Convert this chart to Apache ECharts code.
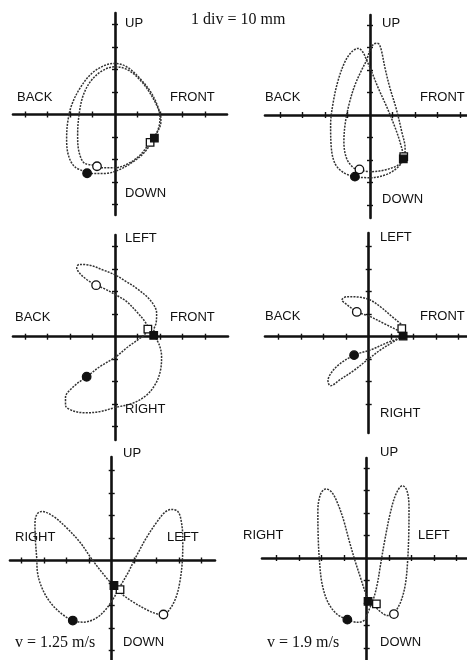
<!DOCTYPE html>
<html>
<head>
<meta charset="utf-8">
<script src="https://cdn.jsdelivr.net/npm/echarts@6/dist/echarts.min.js"></script>
<style>
  html, body { margin: 0; padding: 0; background: #ffffff; }
  #chart { width: 467px; height: 660px; }
</style>
</head>
<body>
<div id="chart"></div>
<script>
// Hoof-path loops in three planes (sagittal, horizontal, frontal) at two walking speeds.
// All coordinates are in divisions, 1 div = 10 mm.

// ---- Sagittal plane, v = 1.25 m/s (two strides) ----
const p1StrideA = [[-1.19,-2.58],[-1.78,-2.33],[-2.07,-1.81],[-2.15,-1.07],[-2.10,-0.33],[-1.93,0.41],[-1.56,1.16],[-1.04,1.82],[-0.44,2.19],[0,2.27],[0.52,2.12],[1.11,1.60],[1.63,0.93],[1.93,0.27],[2.0,-0.18],[1.93,-0.62],[1.73,-1.05],[1.33,-1.66],[0.81,-2.10],[0.15,-2.47],[-0.44,-2.62],[-1.04,-2.62],[-1.19,-2.58]];
const p1StrideB = [[-0.81,-2.25],[-1.33,-2.18],[-1.6,-1.66],[-1.66,-0.92],[-1.6,-0.03],[-1.41,0.86],[-1.04,1.53],[-0.52,1.97],[0,2.12],[0.59,1.97],[1.19,1.45],[1.70,0.71],[2.0,0.04],[2.04,-0.33],[1.85,-0.84],[1.56,-1.24],[1.11,-1.81],[0.59,-2.18],[0,-2.37],[-0.59,-2.37],[-0.81,-2.25]];
const p1Marks = { filledCircle: [-1.24,-2.61], openCircle: [-0.8,-2.3], filledSquare: [1.75,-1.05], openSquare: [1.56,-1.24] };

// ---- Sagittal plane, v = 1.9 m/s ----
const p2StrideA = [[-0.67,-2.76],[-1.19,-2.55],[-1.56,-2.15],[-1.73,-1.33],[-1.75,-0.44],[-1.63,0.59],[-1.41,1.56],[-1.11,2.37],[-0.81,2.81],[-0.52,2.96],[-0.33,2.81],[-0.15,2.44],[0.07,1.93],[0.37,1.19],[0.74,0.37],[1.07,-0.44],[1.33,-1.19],[1.48,-1.90],[1.26,-2.30],[0.74,-2.64],[0,-2.79],[-0.67,-2.76]];
const p2StrideB = [[-0.47,-2.44],[0,-2.52],[0.67,-2.44],[1.26,-2.22],[1.51,-1.93],[1.56,-1.48],[1.41,-0.74],[1.16,0.30],[0.89,1.19],[0.67,2.07],[0.52,2.81],[0.41,3.14],[0.30,3.19],[0.15,3.14],[0,2.89],[-0.15,2.44],[-0.37,2.0],[-0.67,1.33],[-0.92,0.52],[-1.10,-0.37],[-1.16,-1.19],[-1.04,-1.93],[-0.74,-2.34],[-0.47,-2.44]];
const p2Marks = { filledCircle: [-0.67,-2.74], openCircle: [-0.47,-2.42], filledSquare: [1.48,-1.95], openSquare: [1.5,-1.85] };

// ---- Horizontal plane, v = 1.25 m/s ----
const p3Path = [[1.73,0.07],[1.97,-0.37],[2.07,-0.89],[2.02,-1.5],[1.80,-2.1],[1.40,-2.6],[0.80,-2.95],[0,-3.15],[-0.67,-3.33],[-1.3,-3.38],[-1.85,-3.3],[-2.2,-3.05],[-2.2,-2.7],[-1.82,-2.2],[-1.26,-1.78],[-0.67,-1.33],[0,-0.92],[0.59,-0.44],[1.11,-0.07],[1.41,0.2],[1.48,0.34],[1.33,0.67],[0.96,1.11],[0.52,1.56],[0,1.88],[-0.44,2.12],[-0.84,2.29],[-1.23,2.52],[-1.56,2.81],[-1.70,3.07],[-1.59,3.21],[-1.19,3.19],[-0.52,2.96],[0,2.75],[0.5,2.45],[0.96,2.15],[1.56,1.63],[1.85,1.05],[1.83,0.62],[1.73,0.30],[1.73,0.07]];
const p3Marks = { filledCircle: [-1.26,-1.78], openCircle: [-0.84,2.29], filledSquare: [1.72,0.06], openSquare: [1.46,0.34] };

// ---- Horizontal plane, v = 1.9 m/s ----
const p4Path = [[1.53,0.03],[1.11,-0.22],[0.52,-0.59],[-0.07,-1.04],[-0.67,-1.51],[-1.26,-1.90],[-1.70,-2.18],[-1.81,-1.96],[-1.63,-1.56],[-1.26,-1.19],[-0.62,-0.81],[0.07,-0.59],[0.81,-0.27],[1.41,-0.02],[1.48,0.2],[1.26,0.30],[0.67,0.59],[0.07,0.89],[-0.52,1.11],[-1.04,1.48],[-1.19,1.63],[-0.96,1.78],[-0.37,1.75],[0.07,1.63],[0.52,1.33],[1.04,0.89],[1.48,0.52],[1.63,0.30],[1.53,0.03]];
const p4Marks = { filledCircle: [-0.65,-0.82], openCircle: [-0.53,1.1], filledSquare: [1.53,0.03], openSquare: [1.47,0.36] };

// ---- Frontal plane, v = 1.25 m/s ----
const p5Path = [[0.10,-1.11],[0.44,-1.48],[0.96,-1.85],[1.56,-2.19],[2.0,-2.37],[2.30,-2.40],[2.59,-2.15],[2.86,-1.63],[3.04,-0.89],[3.14,0],[3.16,0.89],[3.11,1.63],[2.96,2.15],[2.67,2.27],[2.37,2.15],[2.0,1.70],[1.56,1.04],[1.19,0.37],[0.96,-0.07],[0.74,-0.52],[0.44,-1.04],[0.30,-1.29],[0.07,-1.70],[-0.30,-2.22],[-0.74,-2.59],[-1.26,-2.74],[-1.73,-2.67],[-2.22,-2.37],[-2.74,-1.85],[-3.11,-1.19],[-3.30,-0.52],[-3.33,0.07],[-3.39,0.89],[-3.41,1.63],[-3.33,2.04],[-3.11,2.18],[-2.59,1.96],[-2.0,1.45],[-1.41,0.81],[-0.89,0.07],[-0.44,-0.52],[-0.12,-0.9],[0.10,-1.11]];
const p5Marks = { filledCircle: [-1.73,-2.67], openCircle: [2.30,-2.40], filledSquare: [0.10,-1.11], openSquare: [0.37,-1.29] };

// ---- Frontal plane, v = 1.9 m/s ----
const p6Path = [[-0.86,-2.74],[-0.41,-2.86],[-0.09,-2.76],[0.03,-2.49],[0.15,-2.19],[0.30,-1.82],[0.47,-1.16],[0.62,-0.27],[0.80,0.77],[1.04,1.96],[1.30,2.84],[1.59,3.21],[1.79,2.99],[1.88,2.25],[1.87,1.07],[1.82,-0.12],[1.72,-1.16],[1.53,-1.90],[1.29,-2.37],[1.19,-2.49],[0.92,-2.56],[0.59,-2.37],[0.33,-2.12],[0.10,-1.93],[-0.06,-1.53],[-0.28,-0.86],[-0.52,-0.12],[-0.78,0.77],[-1.02,1.66],[-1.28,2.40],[-1.55,2.92],[-1.82,3.07],[-2.05,2.84],[-2.17,2.10],[-2.16,1.07],[-2.10,-0.12],[-1.98,-1.16],[-1.72,-1.97],[-1.33,-2.49],[-0.86,-2.74]];
const p6Marks = { filledCircle: [-0.86,-2.74], openCircle: [1.21,-2.49], filledSquare: [0.06,-1.93], openSquare: [0.43,-2.04] };

// Direction labels around each pair of axes
const p1Labels = ['UP', 'BACK', 'FRONT', 'DOWN'];
const p2Labels = ['UP', 'BACK', 'FRONT', 'DOWN'];
const p3Labels = ['LEFT', 'BACK', 'FRONT', 'RIGHT'];
const p4Labels = ['LEFT', 'BACK', 'FRONT', 'RIGHT'];
const p5Labels = ['UP', 'RIGHT', 'LEFT', 'DOWN'];
const p6Labels = ['UP', 'RIGHT', 'LEFT', 'DOWN'];
const scaleNote = '1 div = 10 mm';
const speedNotes = ['v = 1.25 m/s', 'v = 1.9 m/s'];

// ---- Layout (pixels) ----
const DIV = 22.5; // pixels per division
// origin of the crossing axes and the extent of each axis line
const panels = [
  { ox: 115,   oy: 114.5, xl: 13,  xr: 227, yt: 13,  yb: 215, paths: [p1StrideA, p1StrideB], marks: p1Marks, labels: p1Labels,
    labelPos: [[125,23],[17,97],[170,97],[125,193]] },
  { ox: 370,   oy: 115,   xl: 265, xr: 467, yt: 15,  yb: 218, paths: [p2StrideA, p2StrideB], marks: p2Marks, labels: p2Labels,
    labelPos: [[382,23],[265,97],[420,97],[382,199]] },
  { ox: 115,   oy: 336.7, xl: 13,  xr: 228, yt: 235, yb: 440, paths: [p3Path], marks: p3Marks, labels: p3Labels,
    labelPos: [[125,238],[15,317],[170,317],[125,409]] },
  { ox: 368.7, oy: 336.7, xl: 265, xr: 467, yt: 233, yb: 433, paths: [p4Path], marks: p4Marks, labels: p4Labels,
    labelPos: [[380,237],[265,316],[420,316],[380,413]] },
  { ox: 111.7, oy: 560.5, xl: 10,  xr: 215, yt: 457, yb: 660, paths: [p5Path], marks: p5Marks, labels: p5Labels,
    labelPos: [[123,453],[15,537],[167,537],[123,642]] },
  { ox: 366.7, oy: 558,   xl: 262, xr: 467, yt: 458, yb: 660, paths: [p6Path], marks: p6Marks, labels: p6Labels,
    labelPos: [[380,452],[243,535],[418,535],[380,642]] }
];

const INK = '#111111';
const grid = [], xAxis = [], yAxis = [], series = [], graphic = [];

function wholeTicks(min, max) {
  const out = [];
  for (let v = Math.ceil(min); v <= Math.floor(max); v++) {
    if (v !== 0 && v > min + 0.3 && v < max - 0.3) out.push(v);
  }
  return out;
}

function axisPair(dimAxes, gridIndex, min, max, positions, onZeroIdx) {
  const ticks = wholeTicks(min, max);
  positions.forEach(function (pos, k) {
    dimAxes.push({
      type: 'value', gridIndex: gridIndex, position: pos, min: min, max: max,
      axisLine: { show: k === 0, onZero: true, onZeroAxisIndex: onZeroIdx, lineStyle: { color: INK, width: 2.6 } },
      axisTick: { show: true, inside: false, length: 3, customValues: ticks, lineStyle: { color: INK, width: 1.4 } },
      axisLabel: { show: false },
      splitLine: { show: false }
    });
  });
}

panels.forEach(function (p, i) {
  grid.push({ left: p.xl, top: p.yt, width: p.xr - p.xl, height: p.yb - p.yt, containLabel: false });
  const xMin = (p.xl - p.ox) / DIV, xMax = (p.xr - p.ox) / DIV;
  const yMin = (p.oy - p.yb) / DIV, yMax = (p.oy - p.yt) / DIV;
  // two axes per direction so the tick marks cross the axis line
  axisPair(xAxis, i, xMin, xMax, ['bottom', 'top'], 2 * i);
  axisPair(yAxis, i, yMin, yMax, ['left', 'right'], 2 * i);

  p.paths.forEach(function (path) {
    series.push({
      type: 'line', xAxisIndex: 2 * i, yAxisIndex: 2 * i, data: path,
      smooth: 0.35, symbol: 'none', clip: false, silent: true,
      lineStyle: { color: '#333333', width: 1.5, type: [2, 1.2] }
    });
  });

  const m = p.marks;
  const markerDefs = [
    { pt: m.openSquare,   symbol: 'rect',   size: 7.5, fill: '#ffffff' },
    { pt: m.filledSquare, symbol: 'rect',   size: 7.5, fill: INK },
    { pt: m.openCircle,   symbol: 'circle', size: 8.5, fill: '#ffffff' },
    { pt: m.filledCircle, symbol: 'circle', size: 8.5, fill: INK }
  ];
  markerDefs.forEach(function (d) {
    series.push({
      type: 'scatter', xAxisIndex: 2 * i, yAxisIndex: 2 * i, data: [d.pt],
      symbol: d.symbol, symbolSize: d.size, silent: true, z: 5,
      itemStyle: { color: d.fill, borderColor: INK, borderWidth: 1.3, opacity: 1 }
    });
  });

  p.labels.forEach(function (txt, k) {
    graphic.push({
      type: 'text', x: p.labelPos[k][0], y: p.labelPos[k][1], silent: true,
      style: { text: txt, fill: INK, font: '13px "Liberation Sans", Arial, sans-serif', verticalAlign: 'middle', align: 'left' }
    });
  });
});

const SERIF = '16px "Liberation Serif", "Times New Roman", serif';
graphic.push({
  type: 'text', x: 191, y: 20, silent: true,
  style: { text: scaleNote, fill: INK, font: SERIF, verticalAlign: 'middle' }
});
graphic.push({
  type: 'text', x: 15, y: 643, silent: true,
  style: { text: speedNotes[0], fill: INK, font: SERIF, verticalAlign: 'middle' }
});
graphic.push({
  type: 'text', x: 267, y: 643, silent: true,
  style: { text: speedNotes[1], fill: INK, font: SERIF, verticalAlign: 'middle' }
});

const chart = echarts.init(document.getElementById('chart'), null, { renderer: 'canvas' });
chart.setOption({
  animation: false,
  backgroundColor: '#ffffff',
  grid: grid,
  xAxis: xAxis,
  yAxis: yAxis,
  series: series,
  graphic: graphic
});
</script>
</body>
</html>
